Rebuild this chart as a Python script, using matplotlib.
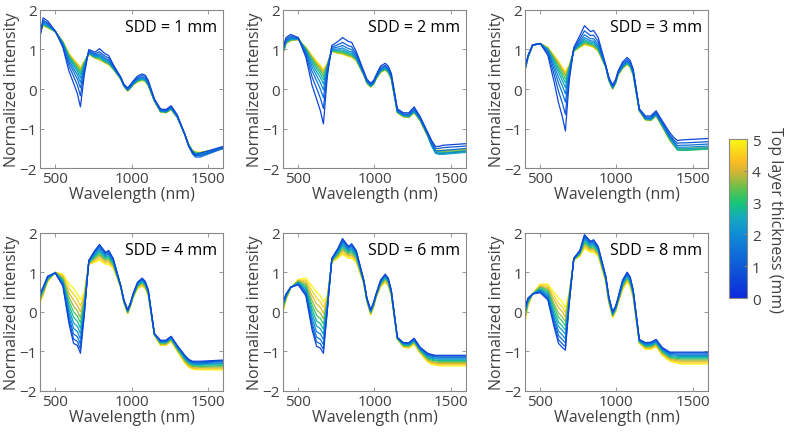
import numpy as np
import matplotlib
matplotlib.use("Agg")
import matplotlib.pyplot as plt
from matplotlib.colors import LinearSegmentedColormap, Normalize
from matplotlib.cm import ScalarMappable

plt.rcParams['font.family'] = ['Open Sans', 'DejaVu Sans']

wavelength = [400, 420, 450, 500, 550, 590, 620, 645, 665, 690, 720, 760, 790, 830, 850,
              880, 930, 950, 975, 995, 1010, 1040, 1070, 1090, 1110, 1150, 1190, 1225,
              1260, 1300, 1350, 1375, 1400, 1420, 1450, 1600]
thickness = [0, 0.5, 1, 1.5, 2, 2.5, 3, 3.5, 4, 4.5, 5]
sdd_labels = ['SDD = 1 mm', 'SDD = 2 mm', 'SDD = 3 mm', 'SDD = 4 mm', 'SDD = 6 mm', 'SDD = 8 mm']

# one row per wavelength, one column per thickness (0 ... 5 mm)
sdd1 = [
    [1.30, 1.34, 1.37, 1.39, 1.41, 1.42, 1.43, 1.44, 1.44, 1.45, 1.45],
    [1.80, 1.74, 1.70, 1.68, 1.65, 1.64, 1.63, 1.62, 1.61, 1.60, 1.60],
    [1.72, 1.67, 1.64, 1.61, 1.60, 1.58, 1.57, 1.56, 1.56, 1.55, 1.55],
    [1.47, 1.46, 1.46, 1.46, 1.46, 1.45, 1.45, 1.45, 1.45, 1.45, 1.45],
    [1.05, 1.09, 1.12, 1.14, 1.16, 1.17, 1.18, 1.19, 1.19, 1.20, 1.20],
    [0.45, 0.58, 0.67, 0.73, 0.78, 0.81, 0.84, 0.86, 0.88, 0.89, 0.90],
    [0.15, 0.32, 0.44, 0.52, 0.59, 0.64, 0.67, 0.70, 0.72, 0.74, 0.75],
    [-0.12, 0.10, 0.25, 0.36, 0.44, 0.50, 0.55, 0.59, 0.61, 0.63, 0.65],
    [-0.45, -0.17, 0.03, 0.17, 0.28, 0.36, 0.42, 0.47, 0.50, 0.53, 0.55],
    [0.35, 0.45, 0.52, 0.57, 0.61, 0.63, 0.65, 0.67, 0.68, 0.69, 0.70],
    [1.00, 0.97, 0.94, 0.93, 0.91, 0.90, 0.90, 0.89, 0.89, 0.88, 0.88],
    [0.93, 0.89, 0.86, 0.84, 0.82, 0.81, 0.80, 0.79, 0.79, 0.78, 0.78],
    [1.02, 0.94, 0.89, 0.85, 0.82, 0.79, 0.78, 0.76, 0.75, 0.75, 0.74],
    [0.88, 0.82, 0.77, 0.74, 0.71, 0.69, 0.68, 0.67, 0.66, 0.65, 0.65],
    [0.85, 0.79, 0.74, 0.71, 0.68, 0.66, 0.65, 0.64, 0.63, 0.62, 0.62],
    [0.62, 0.59, 0.56, 0.55, 0.53, 0.52, 0.52, 0.51, 0.51, 0.50, 0.50],
    [0.30, 0.29, 0.28, 0.27, 0.26, 0.26, 0.26, 0.25, 0.25, 0.25, 0.25],
    [0.12, 0.11, 0.10, 0.09, 0.08, 0.08, 0.08, 0.07, 0.07, 0.07, 0.07],
    [0.03, 0.01, -0.01, -0.02, -0.03, -0.03, -0.04, -0.04, -0.05, -0.05, -0.05],
    [0.12, 0.09, 0.08, 0.06, 0.05, 0.05, 0.04, 0.04, 0.03, 0.03, 0.03],
    [0.20, 0.17, 0.15, 0.14, 0.13, 0.12, 0.11, 0.11, 0.11, 0.10, 0.10],
    [0.33, 0.29, 0.26, 0.24, 0.22, 0.21, 0.20, 0.19, 0.19, 0.18, 0.18],
    [0.38, 0.34, 0.30, 0.28, 0.26, 0.25, 0.24, 0.23, 0.23, 0.22, 0.22],
    [0.35, 0.31, 0.27, 0.25, 0.23, 0.22, 0.21, 0.20, 0.20, 0.19, 0.19],
    [0.22, 0.18, 0.15, 0.13, 0.12, 0.11, 0.10, 0.09, 0.09, 0.08, 0.08],
    [-0.25, -0.26, -0.27, -0.28, -0.29, -0.29, -0.29, -0.30, -0.30, -0.30, -0.30],
    [-0.50, -0.52, -0.54, -0.55, -0.56, -0.56, -0.57, -0.57, -0.58, -0.58, -0.58],
    [-0.52, -0.54, -0.56, -0.57, -0.58, -0.58, -0.59, -0.59, -0.60, -0.60, -0.60],
    [-0.42, -0.45, -0.47, -0.48, -0.49, -0.50, -0.51, -0.51, -0.52, -0.52, -0.52],
    [-0.65, -0.67, -0.68, -0.69, -0.70, -0.71, -0.71, -0.71, -0.72, -0.72, -0.72],
    [-1.15, -1.15, -1.15, -1.15, -1.15, -1.15, -1.15, -1.15, -1.15, -1.15, -1.15],
    [-1.45, -1.44, -1.43, -1.42, -1.42, -1.41, -1.41, -1.40, -1.40, -1.40, -1.40],
    [-1.58, -1.62, -1.64, -1.61, -1.59, -1.57, -1.56, -1.56, -1.55, -1.55, -1.55],
    [-1.66, -1.69, -1.72, -1.68, -1.65, -1.62, -1.61, -1.60, -1.60, -1.59, -1.59],
    [-1.62, -1.68, -1.72, -1.68, -1.65, -1.63, -1.62, -1.61, -1.61, -1.60, -1.60],
    [-1.45, -1.47, -1.50, -1.50, -1.50, -1.50, -1.50, -1.50, -1.50, -1.50, -1.50],
]

sdd2 = [
    [1.05, 1.01, 0.98, 0.96, 0.94, 0.93, 0.92, 0.91, 0.91, 0.90, 0.90],
    [1.30, 1.26, 1.23, 1.21, 1.19, 1.18, 1.17, 1.16, 1.16, 1.15, 1.15],
    [1.38, 1.34, 1.30, 1.28, 1.26, 1.25, 1.24, 1.23, 1.23, 1.22, 1.22],
    [1.30, 1.29, 1.28, 1.27, 1.26, 1.26, 1.26, 1.25, 1.25, 1.25, 1.25],
    [0.80, 0.87, 0.92, 0.96, 0.98, 1.00, 1.02, 1.03, 1.04, 1.05, 1.05],
    [0.10, 0.31, 0.46, 0.57, 0.65, 0.71, 0.75, 0.79, 0.81, 0.84, 0.85],
    [-0.25, 0.02, 0.21, 0.34, 0.44, 0.52, 0.58, 0.62, 0.65, 0.68, 0.70],
    [-0.55, -0.23, 0.00, 0.16, 0.29, 0.38, 0.45, 0.51, 0.54, 0.58, 0.60],
    [-0.88, -0.49, -0.22, -0.02, 0.13, 0.24, 0.32, 0.39, 0.43, 0.47, 0.50],
    [0.30, 0.40, 0.47, 0.52, 0.56, 0.58, 0.60, 0.62, 0.63, 0.64, 0.65],
    [1.10, 1.06, 1.03, 1.01, 0.99, 0.98, 0.97, 0.96, 0.96, 0.95, 0.95],
    [1.20, 1.12, 1.06, 1.01, 0.98, 0.96, 0.94, 0.92, 0.92, 0.91, 0.90],
    [1.30, 1.18, 1.10, 1.04, 0.99, 0.96, 0.93, 0.91, 0.90, 0.89, 0.88],
    [1.20, 1.09, 1.02, 0.96, 0.92, 0.89, 0.87, 0.85, 0.84, 0.83, 0.82],
    [1.18, 1.07, 1.00, 0.94, 0.90, 0.87, 0.85, 0.83, 0.82, 0.81, 0.80],
    [0.95, 0.89, 0.84, 0.81, 0.78, 0.76, 0.75, 0.74, 0.73, 0.72, 0.72],
    [0.45, 0.42, 0.40, 0.39, 0.38, 0.37, 0.36, 0.36, 0.36, 0.35, 0.35],
    [0.25, 0.22, 0.20, 0.19, 0.18, 0.17, 0.16, 0.16, 0.16, 0.15, 0.15],
    [0.15, 0.12, 0.10, 0.09, 0.08, 0.07, 0.06, 0.06, 0.06, 0.05, 0.05],
    [0.22, 0.19, 0.17, 0.16, 0.15, 0.14, 0.13, 0.13, 0.13, 0.12, 0.12],
    [0.35, 0.32, 0.30, 0.29, 0.28, 0.27, 0.26, 0.26, 0.26, 0.25, 0.25],
    [0.58, 0.54, 0.50, 0.48, 0.46, 0.45, 0.44, 0.43, 0.43, 0.42, 0.42],
    [0.65, 0.60, 0.57, 0.54, 0.53, 0.51, 0.50, 0.49, 0.49, 0.48, 0.48],
    [0.58, 0.53, 0.50, 0.47, 0.46, 0.44, 0.43, 0.42, 0.42, 0.41, 0.41],
    [0.40, 0.36, 0.33, 0.31, 0.29, 0.28, 0.27, 0.26, 0.26, 0.25, 0.25],
    [-0.50, -0.53, -0.55, -0.56, -0.57, -0.58, -0.59, -0.59, -0.60, -0.60, -0.60],
    [-0.60, -0.63, -0.65, -0.66, -0.67, -0.68, -0.69, -0.69, -0.70, -0.70, -0.70],
    [-0.60, -0.63, -0.66, -0.67, -0.69, -0.70, -0.70, -0.71, -0.71, -0.72, -0.72],
    [-0.45, -0.49, -0.52, -0.54, -0.56, -0.57, -0.58, -0.59, -0.59, -0.60, -0.60],
    [-0.70, -0.73, -0.75, -0.76, -0.77, -0.78, -0.79, -0.79, -0.80, -0.80, -0.80],
    [-1.10, -1.13, -1.15, -1.16, -1.17, -1.18, -1.19, -1.19, -1.20, -1.20, -1.20],
    [-1.30, -1.34, -1.38, -1.42, -1.44, -1.43, -1.42, -1.41, -1.41, -1.40, -1.40],
    [-1.45, -1.50, -1.55, -1.60, -1.62, -1.60, -1.58, -1.57, -1.56, -1.55, -1.55],
    [-1.45, -1.50, -1.56, -1.62, -1.65, -1.62, -1.59, -1.58, -1.56, -1.55, -1.55],
    [-1.42, -1.48, -1.55, -1.62, -1.65, -1.63, -1.60, -1.58, -1.56, -1.55, -1.55],
    [-1.38, -1.44, -1.50, -1.57, -1.60, -1.58, -1.56, -1.54, -1.53, -1.52, -1.52],
]

sdd3 = [
    [0.52, 0.51, 0.50, 0.50, 0.49, 0.49, 0.48, 0.48, 0.48, 0.48, 0.48],
    [0.85, 0.84, 0.83, 0.82, 0.81, 0.81, 0.81, 0.80, 0.80, 0.80, 0.80],
    [1.12, 1.11, 1.11, 1.11, 1.11, 1.10, 1.10, 1.10, 1.10, 1.10, 1.10],
    [1.15, 1.15, 1.15, 1.15, 1.15, 1.15, 1.15, 1.15, 1.15, 1.15, 1.15],
    [0.85, 0.91, 0.95, 0.97, 1.00, 1.01, 1.02, 1.03, 1.04, 1.05, 1.05],
    [0.20, 0.38, 0.51, 0.60, 0.67, 0.73, 0.77, 0.80, 0.82, 0.84, 0.85],
    [-0.35, -0.06, 0.15, 0.30, 0.42, 0.50, 0.56, 0.62, 0.65, 0.68, 0.70],
    [-0.70, -0.35, -0.10, 0.08, 0.21, 0.31, 0.39, 0.45, 0.49, 0.53, 0.55],
    [-1.06, -0.64, -0.33, -0.12, 0.04, 0.16, 0.25, 0.33, 0.37, 0.42, 0.45],
    [0.20, 0.31, 0.39, 0.45, 0.49, 0.52, 0.55, 0.57, 0.58, 0.59, 0.60],
    [1.05, 1.02, 1.00, 0.99, 0.98, 0.97, 0.96, 0.96, 0.96, 0.95, 0.95],
    [1.35, 1.27, 1.21, 1.16, 1.13, 1.11, 1.09, 1.07, 1.07, 1.06, 1.05],
    [1.60, 1.47, 1.37, 1.30, 1.25, 1.21, 1.18, 1.16, 1.14, 1.13, 1.12],
    [1.45, 1.35, 1.27, 1.22, 1.18, 1.15, 1.13, 1.11, 1.10, 1.09, 1.08],
    [1.48, 1.36, 1.27, 1.21, 1.17, 1.13, 1.11, 1.08, 1.07, 1.06, 1.05],
    [1.30, 1.20, 1.13, 1.08, 1.04, 1.02, 1.00, 0.98, 0.97, 0.96, 0.95],
    [0.60, 0.59, 0.58, 0.57, 0.56, 0.56, 0.56, 0.55, 0.55, 0.55, 0.55],
    [0.30, 0.28, 0.26, 0.25, 0.24, 0.24, 0.23, 0.23, 0.22, 0.22, 0.22],
    [0.10, 0.07, 0.05, 0.04, 0.03, 0.02, 0.01, 0.01, 0.01, 0.00, 0.00],
    [0.25, 0.22, 0.20, 0.19, 0.18, 0.17, 0.16, 0.16, 0.16, 0.15, 0.15],
    [0.45, 0.42, 0.40, 0.39, 0.38, 0.37, 0.36, 0.36, 0.36, 0.35, 0.35],
    [0.68, 0.64, 0.60, 0.58, 0.56, 0.55, 0.54, 0.53, 0.53, 0.52, 0.52],
    [0.80, 0.75, 0.71, 0.69, 0.67, 0.65, 0.64, 0.63, 0.63, 0.62, 0.62],
    [0.72, 0.67, 0.64, 0.61, 0.60, 0.58, 0.57, 0.57, 0.56, 0.55, 0.55],
    [0.50, 0.46, 0.43, 0.41, 0.39, 0.38, 0.37, 0.36, 0.36, 0.35, 0.35],
    [-0.50, -0.51, -0.52, -0.53, -0.54, -0.54, -0.54, -0.55, -0.55, -0.55, -0.55],
    [-0.68, -0.71, -0.73, -0.74, -0.75, -0.76, -0.77, -0.77, -0.78, -0.78, -0.78],
    [-0.68, -0.71, -0.74, -0.75, -0.77, -0.78, -0.78, -0.79, -0.79, -0.80, -0.80],
    [-0.55, -0.59, -0.61, -0.63, -0.64, -0.66, -0.66, -0.67, -0.67, -0.68, -0.68],
    [-0.80, -0.84, -0.87, -0.89, -0.91, -0.92, -0.93, -0.94, -0.94, -0.95, -0.95],
    [-1.10, -1.16, -1.20, -1.22, -1.25, -1.26, -1.27, -1.28, -1.29, -1.30, -1.30],
    [-1.22, -1.28, -1.32, -1.35, -1.38, -1.40, -1.41, -1.41, -1.42, -1.42, -1.42],
    [-1.30, -1.37, -1.43, -1.47, -1.51, -1.53, -1.54, -1.53, -1.52, -1.51, -1.50],
    [-1.29, -1.36, -1.42, -1.47, -1.51, -1.54, -1.55, -1.54, -1.52, -1.51, -1.50],
    [-1.28, -1.36, -1.42, -1.47, -1.51, -1.54, -1.55, -1.54, -1.52, -1.51, -1.50],
    [-1.25, -1.33, -1.39, -1.44, -1.48, -1.51, -1.52, -1.51, -1.49, -1.48, -1.47],
]

sdd4 = [
    [0.47, 0.45, 0.43, 0.40, 0.38, 0.35, 0.33, 0.30, 0.28, 0.25, 0.22],
    [0.62, 0.60, 0.59, 0.57, 0.55, 0.53, 0.51, 0.49, 0.46, 0.44, 0.42],
    [0.90, 0.89, 0.87, 0.86, 0.84, 0.83, 0.81, 0.80, 0.78, 0.77, 0.75],
    [0.98, 0.98, 0.98, 0.99, 0.99, 0.99, 0.99, 0.99, 1.00, 1.00, 1.00],
    [0.65, 0.67, 0.70, 0.73, 0.76, 0.79, 0.82, 0.85, 0.88, 0.92, 0.95],
    [-0.30, -0.22, -0.13, -0.03, 0.07, 0.17, 0.27, 0.37, 0.48, 0.59, 0.70],
    [-0.80, -0.69, -0.56, -0.42, -0.28, -0.14, 0.00, 0.14, 0.29, 0.45, 0.60],
    [-0.85, -0.75, -0.63, -0.50, -0.37, -0.24, -0.11, 0.02, 0.16, 0.31, 0.45],
    [-1.05, -0.94, -0.82, -0.69, -0.55, -0.42, -0.28, -0.15, 0.00, 0.15, 0.30],
    [-0.10, -0.05, 0.00, 0.06, 0.12, 0.18, 0.24, 0.30, 0.37, 0.43, 0.50],
    [1.30, 1.29, 1.28, 1.27, 1.26, 1.25, 1.24, 1.23, 1.22, 1.21, 1.20],
    [1.55, 1.53, 1.50, 1.47, 1.44, 1.41, 1.38, 1.35, 1.32, 1.28, 1.25],
    [1.70, 1.67, 1.63, 1.59, 1.55, 1.51, 1.47, 1.43, 1.39, 1.34, 1.30],
    [1.50, 1.48, 1.45, 1.42, 1.39, 1.36, 1.33, 1.30, 1.27, 1.23, 1.20],
    [1.55, 1.52, 1.49, 1.46, 1.42, 1.39, 1.35, 1.32, 1.28, 1.24, 1.20],
    [1.35, 1.33, 1.31, 1.28, 1.26, 1.23, 1.21, 1.18, 1.16, 1.13, 1.10],
    [0.65, 0.65, 0.64, 0.64, 0.63, 0.63, 0.62, 0.62, 0.61, 0.61, 0.60],
    [0.30, 0.29, 0.29, 0.28, 0.27, 0.26, 0.25, 0.25, 0.24, 0.23, 0.22],
    [0.05, 0.04, 0.03, 0.02, 0.01, 0.00, -0.01, -0.02, -0.03, -0.04, -0.05],
    [0.25, 0.24, 0.23, 0.22, 0.21, 0.20, 0.19, 0.18, 0.17, 0.16, 0.15],
    [0.45, 0.44, 0.43, 0.42, 0.41, 0.40, 0.39, 0.38, 0.37, 0.36, 0.35],
    [0.75, 0.74, 0.72, 0.70, 0.69, 0.67, 0.65, 0.64, 0.62, 0.60, 0.58],
    [0.85, 0.83, 0.82, 0.80, 0.78, 0.76, 0.74, 0.72, 0.69, 0.67, 0.65],
    [0.77, 0.75, 0.74, 0.72, 0.70, 0.68, 0.66, 0.64, 0.62, 0.60, 0.58],
    [0.55, 0.54, 0.52, 0.51, 0.49, 0.48, 0.46, 0.45, 0.43, 0.42, 0.40],
    [-0.55, -0.55, -0.56, -0.56, -0.57, -0.57, -0.58, -0.58, -0.59, -0.59, -0.60],
    [-0.72, -0.73, -0.74, -0.76, -0.77, -0.78, -0.79, -0.81, -0.82, -0.84, -0.85],
    [-0.72, -0.73, -0.74, -0.76, -0.77, -0.78, -0.79, -0.81, -0.82, -0.84, -0.85],
    [-0.62, -0.63, -0.64, -0.66, -0.67, -0.68, -0.69, -0.71, -0.72, -0.74, -0.75],
    [-0.85, -0.86, -0.88, -0.89, -0.91, -0.92, -0.94, -0.95, -0.97, -0.98, -1.00],
    [-1.10, -1.12, -1.13, -1.15, -1.17, -1.19, -1.21, -1.23, -1.26, -1.28, -1.30],
    [-1.20, -1.22, -1.23, -1.25, -1.27, -1.29, -1.31, -1.33, -1.36, -1.38, -1.40],
    [-1.25, -1.27, -1.28, -1.30, -1.32, -1.34, -1.36, -1.38, -1.41, -1.43, -1.45],
    [-1.25, -1.27, -1.29, -1.31, -1.33, -1.35, -1.37, -1.39, -1.42, -1.44, -1.46],
    [-1.25, -1.27, -1.29, -1.31, -1.33, -1.35, -1.38, -1.40, -1.42, -1.45, -1.47],
    [-1.22, -1.24, -1.26, -1.29, -1.31, -1.34, -1.36, -1.39, -1.42, -1.44, -1.47],
]

sdd6 = [
    [0.25, 0.23, 0.21, 0.18, 0.16, 0.13, 0.11, 0.08, 0.06, 0.03, 0.00],
    [0.45, 0.44, 0.42, 0.41, 0.39, 0.38, 0.36, 0.35, 0.33, 0.32, 0.30],
    [0.62, 0.62, 0.62, 0.61, 0.61, 0.61, 0.61, 0.61, 0.60, 0.60, 0.60],
    [0.68, 0.69, 0.70, 0.72, 0.73, 0.75, 0.76, 0.77, 0.79, 0.80, 0.82],
    [0.40, 0.44, 0.48, 0.52, 0.57, 0.61, 0.66, 0.70, 0.75, 0.80, 0.85],
    [-0.45, -0.36, -0.26, -0.15, -0.04, 0.07, 0.18, 0.29, 0.41, 0.53, 0.65],
    [-0.87, -0.76, -0.64, -0.50, -0.36, -0.23, -0.09, 0.05, 0.20, 0.35, 0.50],
    [-0.92, -0.81, -0.70, -0.56, -0.43, -0.30, -0.17, -0.04, 0.11, 0.25, 0.40],
    [-1.05, -0.95, -0.83, -0.70, -0.57, -0.44, -0.31, -0.18, -0.04, 0.11, 0.25],
    [0.00, 0.03, 0.07, 0.11, 0.15, 0.19, 0.23, 0.27, 0.31, 0.36, 0.40],
    [1.35, 1.34, 1.33, 1.32, 1.31, 1.30, 1.29, 1.28, 1.27, 1.26, 1.25],
    [1.60, 1.58, 1.56, 1.53, 1.51, 1.48, 1.46, 1.43, 1.41, 1.38, 1.35],
    [1.85, 1.82, 1.78, 1.74, 1.70, 1.66, 1.62, 1.58, 1.54, 1.49, 1.45],
    [1.65, 1.63, 1.60, 1.57, 1.54, 1.51, 1.48, 1.45, 1.42, 1.38, 1.35],
    [1.72, 1.69, 1.66, 1.62, 1.58, 1.55, 1.51, 1.47, 1.43, 1.39, 1.35],
    [1.55, 1.53, 1.50, 1.47, 1.44, 1.41, 1.38, 1.35, 1.32, 1.28, 1.25],
    [0.80, 0.79, 0.78, 0.77, 0.76, 0.75, 0.74, 0.73, 0.72, 0.71, 0.70],
    [0.35, 0.34, 0.33, 0.32, 0.31, 0.30, 0.29, 0.28, 0.27, 0.26, 0.25],
    [0.05, 0.04, 0.03, 0.01, 0.00, -0.01, -0.02, -0.04, -0.05, -0.07, -0.08],
    [0.25, 0.24, 0.23, 0.21, 0.20, 0.19, 0.18, 0.16, 0.15, 0.13, 0.12],
    [0.45, 0.44, 0.43, 0.42, 0.41, 0.40, 0.39, 0.38, 0.37, 0.36, 0.35],
    [0.80, 0.79, 0.77, 0.75, 0.73, 0.72, 0.70, 0.68, 0.66, 0.64, 0.62],
    [0.95, 0.93, 0.92, 0.90, 0.88, 0.86, 0.84, 0.82, 0.79, 0.77, 0.75],
    [0.85, 0.83, 0.82, 0.80, 0.78, 0.76, 0.74, 0.72, 0.69, 0.67, 0.65],
    [0.55, 0.54, 0.52, 0.51, 0.49, 0.48, 0.46, 0.45, 0.43, 0.42, 0.40],
    [-0.65, -0.65, -0.66, -0.66, -0.67, -0.67, -0.68, -0.68, -0.69, -0.69, -0.70],
    [-0.78, -0.79, -0.80, -0.81, -0.82, -0.84, -0.85, -0.86, -0.87, -0.89, -0.90],
    [-0.78, -0.79, -0.80, -0.82, -0.83, -0.85, -0.86, -0.87, -0.89, -0.90, -0.92],
    [-0.67, -0.68, -0.70, -0.71, -0.73, -0.74, -0.76, -0.77, -0.79, -0.80, -0.82],
    [-0.90, -0.91, -0.93, -0.94, -0.96, -0.97, -0.99, -1.00, -1.02, -1.03, -1.05],
    [-1.05, -1.07, -1.09, -1.11, -1.14, -1.16, -1.18, -1.20, -1.23, -1.25, -1.28],
    [-1.08, -1.10, -1.12, -1.15, -1.17, -1.20, -1.22, -1.25, -1.28, -1.30, -1.33],
    [-1.10, -1.12, -1.14, -1.17, -1.19, -1.22, -1.24, -1.27, -1.30, -1.32, -1.35],
    [-1.10, -1.12, -1.15, -1.17, -1.20, -1.23, -1.25, -1.28, -1.31, -1.34, -1.36],
    [-1.10, -1.12, -1.15, -1.17, -1.20, -1.23, -1.25, -1.28, -1.31, -1.34, -1.37],
    [-1.10, -1.12, -1.15, -1.17, -1.20, -1.23, -1.25, -1.28, -1.31, -1.34, -1.37],
]

sdd8 = [
    [0.10, 0.07, 0.04, 0.01, -0.03, -0.06, -0.10, -0.13, -0.17, -0.21, -0.25],
    [0.35, 0.33, 0.32, 0.30, 0.28, 0.26, 0.24, 0.22, 0.19, 0.17, 0.15],
    [0.45, 0.45, 0.45, 0.45, 0.45, 0.45, 0.45, 0.45, 0.45, 0.45, 0.45],
    [0.48, 0.50, 0.52, 0.54, 0.56, 0.58, 0.61, 0.63, 0.65, 0.68, 0.70],
    [0.30, 0.33, 0.37, 0.41, 0.45, 0.49, 0.53, 0.57, 0.61, 0.66, 0.70],
    [-0.37, -0.30, -0.22, -0.14, -0.05, 0.04, 0.13, 0.21, 0.31, 0.40, 0.50],
    [-0.80, -0.71, -0.60, -0.49, -0.37, -0.26, -0.14, -0.03, 0.10, 0.22, 0.35],
    [-0.90, -0.81, -0.70, -0.59, -0.47, -0.36, -0.24, -0.13, 0.00, 0.12, 0.25],
    [-0.97, -0.88, -0.79, -0.68, -0.57, -0.47, -0.36, -0.25, -0.14, -0.02, 0.10],
    [0.20, 0.22, 0.25, 0.28, 0.31, 0.34, 0.37, 0.40, 0.43, 0.47, 0.50],
    [1.35, 1.35, 1.34, 1.34, 1.33, 1.33, 1.32, 1.32, 1.31, 1.31, 1.30],
    [1.55, 1.54, 1.52, 1.51, 1.49, 1.48, 1.46, 1.45, 1.43, 1.42, 1.40],
    [1.95, 1.92, 1.89, 1.86, 1.82, 1.79, 1.75, 1.72, 1.68, 1.64, 1.60],
    [1.78, 1.76, 1.73, 1.70, 1.68, 1.65, 1.62, 1.59, 1.56, 1.53, 1.50],
    [1.82, 1.79, 1.77, 1.73, 1.70, 1.67, 1.64, 1.61, 1.57, 1.54, 1.50],
    [1.65, 1.63, 1.61, 1.58, 1.56, 1.53, 1.51, 1.48, 1.46, 1.43, 1.40],
    [0.90, 0.89, 0.87, 0.86, 0.84, 0.83, 0.81, 0.80, 0.78, 0.77, 0.75],
    [0.38, 0.37, 0.35, 0.34, 0.32, 0.30, 0.29, 0.27, 0.26, 0.24, 0.22],
    [0.00, -0.01, -0.03, -0.04, -0.06, -0.07, -0.09, -0.10, -0.12, -0.13, -0.15],
    [0.15, 0.14, 0.12, 0.11, 0.09, 0.08, 0.06, 0.05, 0.03, 0.02, 0.00],
    [0.35, 0.34, 0.32, 0.31, 0.29, 0.28, 0.26, 0.25, 0.23, 0.22, 0.20],
    [0.80, 0.78, 0.76, 0.73, 0.71, 0.68, 0.66, 0.63, 0.61, 0.58, 0.55],
    [1.00, 0.98, 0.96, 0.93, 0.91, 0.88, 0.86, 0.83, 0.81, 0.78, 0.75],
    [0.88, 0.86, 0.84, 0.81, 0.79, 0.76, 0.74, 0.71, 0.69, 0.66, 0.63],
    [0.55, 0.53, 0.52, 0.50, 0.48, 0.46, 0.44, 0.42, 0.39, 0.37, 0.35],
    [-0.70, -0.71, -0.72, -0.73, -0.74, -0.75, -0.76, -0.77, -0.78, -0.79, -0.80],
    [-0.78, -0.79, -0.81, -0.83, -0.84, -0.86, -0.88, -0.89, -0.91, -0.93, -0.95],
    [-0.77, -0.78, -0.80, -0.82, -0.84, -0.85, -0.87, -0.89, -0.91, -0.93, -0.95],
    [-0.70, -0.71, -0.73, -0.75, -0.77, -0.78, -0.80, -0.82, -0.84, -0.86, -0.88],
    [-0.90, -0.92, -0.93, -0.95, -0.97, -0.99, -1.01, -1.03, -1.06, -1.08, -1.10],
    [-1.02, -1.04, -1.06, -1.08, -1.11, -1.13, -1.15, -1.17, -1.20, -1.22, -1.25],
    [-1.02, -1.04, -1.06, -1.09, -1.12, -1.14, -1.17, -1.19, -1.22, -1.25, -1.28],
    [-1.02, -1.04, -1.07, -1.10, -1.12, -1.15, -1.18, -1.21, -1.24, -1.27, -1.30],
    [-1.02, -1.04, -1.07, -1.10, -1.13, -1.16, -1.19, -1.22, -1.25, -1.29, -1.32],
    [-1.02, -1.04, -1.07, -1.10, -1.13, -1.16, -1.19, -1.22, -1.25, -1.29, -1.32],
    [-1.02, -1.04, -1.07, -1.10, -1.13, -1.16, -1.19, -1.22, -1.25, -1.29, -1.32],
]

panels = [sdd1, sdd2, sdd3, sdd4, sdd6, sdd8]

# parula-like map as seen on the colour bar
cmap = LinearSegmentedColormap.from_list('thick', [
    (0.00, '#0c2adc'), (0.20, '#0e5ad8'), (0.40, '#0f8cd6'), (0.50, '#14a8c0'),
    (0.60, '#16c774'), (0.70, '#6ebf48'), (0.80, '#d8b534'), (0.86, '#fbbc24'),
    (1.00, '#f8f814')])
norm = Normalize(0, 5)

fig = plt.figure(figsize=(7.91, 4.35), dpi=100)
lefts = [0.0506, 0.3578, 0.6637]
bottoms = [0.6110, 0.0990]
grey = '#404040'

for i, data in enumerate(panels):
    ax = fig.add_axes([lefts[i % 3], bottoms[i // 3], 0.2313, 0.3640])
    arr = np.array(data).T
    for k in range(len(thickness) - 1, -1, -1):
        ax.plot(wavelength, arr[k], color=cmap(0.12 + 0.88 * norm(thickness[k])), lw=0.9)
    ax.set_xlim(400, 1600)
    ax.set_ylim(-2, 2)
    ax.set_xticks([500, 1000, 1500])
    ax.set_yticks([-2, -1, 0, 1, 2])
    ax.tick_params(direction='in', length=3, width=0.6, top=True, right=True,
                   labelsize=11, colors='#888888', labelcolor=grey, pad=2)
    for s in ax.spines.values():
        s.set_color('#888888')
        s.set_linewidth(0.8)
    ax.set_xlabel('Wavelength (nm)', fontsize=11.5, color=grey, labelpad=0)
    ax.set_ylabel('Normalized intensity', fontsize=11.5, color=grey, labelpad=0)
    ax.text(0.97, 0.94, sdd_labels[i], transform=ax.transAxes, ha='right', va='top',
            fontsize=11.5, color='black')

cax = fig.add_axes([0.9216, 0.3126, 0.0228, 0.3655])
cb = fig.colorbar(ScalarMappable(norm=norm, cmap=cmap), cax=cax, ticks=[0, 1, 2, 3, 4, 5])
cb.outline.set_edgecolor('#888888')
cb.ax.tick_params(direction='in', length=2, labelsize=11, colors='#888888', labelcolor=grey)
cb.set_label('Top layer thickness (mm)', fontsize=11.5, color=grey, rotation=270, labelpad=16)

fig.savefig('out.png', dpi=100)
